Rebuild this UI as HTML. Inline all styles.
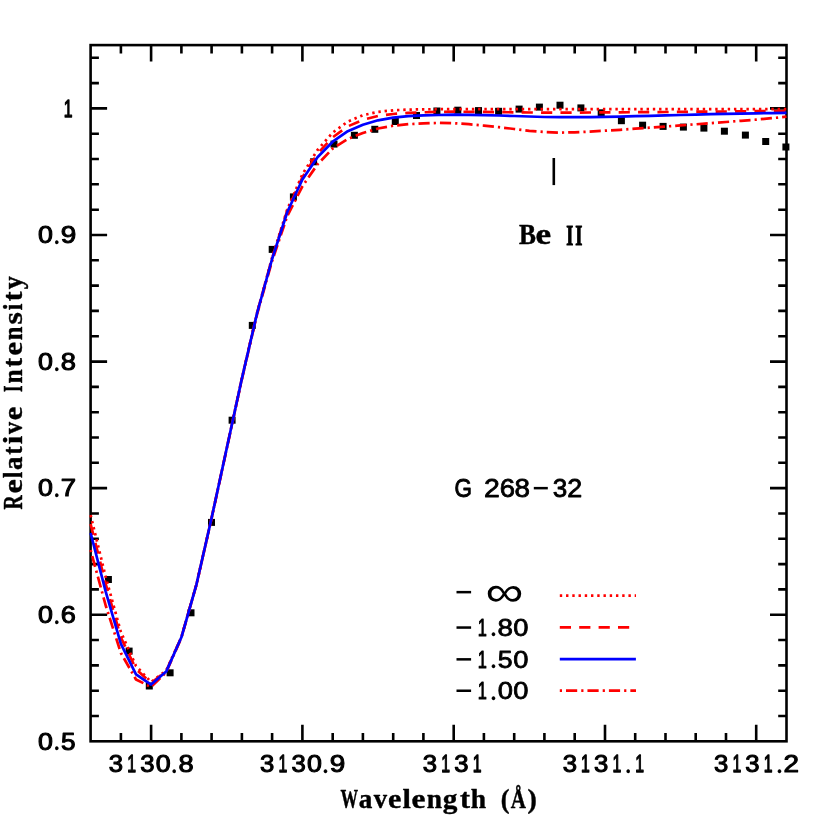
<!DOCTYPE html>
<html><head><meta charset="utf-8"><title>G 268-32 Be II</title>
<style>
html,body{margin:0;padding:0;background:#fff;}
body{width:830px;height:830px;overflow:hidden;font-family:"Liberation Sans",sans-serif;}
svg{display:block;}
text{font-size:100px;fill:#000;stroke-linejoin:round;}
.sr{font-family:"Liberation Serif",serif;}
.sb{font-family:"Liberation Serif",serif;font-weight:bold;}
.mb{font-family:"Liberation Mono",monospace;font-weight:bold;}
.mr{font-family:"Liberation Mono",monospace;}
.ss{font-family:"Liberation Sans",sans-serif;}
.t{filter:grayscale(1);}
.sab{font-family:"Liberation Sans",sans-serif;font-weight:bold;}
</style></head><body>
<svg width="830" height="830" viewBox="0 0 830 830">
<rect x="0" y="0" width="830" height="830" fill="#fff"/>

<g stroke="#000" stroke-width="2.6" fill="none" stroke-linecap="butt">
<path d="M120.9 741.3 V733.0 M120.9 45.1 V53.4"/>
<path d="M151.1 741.3 V724.8 M151.1 45.1 V61.6"/>
<path d="M181.4 741.3 V733.0 M181.4 45.1 V53.4"/>
<path d="M211.6 741.3 V733.0 M211.6 45.1 V53.4"/>
<path d="M241.9 741.3 V733.0 M241.9 45.1 V53.4"/>
<path d="M272.1 741.3 V733.0 M272.1 45.1 V53.4"/>
<path d="M302.4 741.3 V724.8 M302.4 45.1 V61.6"/>
<path d="M332.7 741.3 V733.0 M332.7 45.1 V53.4"/>
<path d="M362.9 741.3 V733.0 M362.9 45.1 V53.4"/>
<path d="M393.2 741.3 V733.0 M393.2 45.1 V53.4"/>
<path d="M423.4 741.3 V733.0 M423.4 45.1 V53.4"/>
<path d="M453.7 741.3 V724.8 M453.7 45.1 V61.6"/>
<path d="M483.9 741.3 V733.0 M483.9 45.1 V53.4"/>
<path d="M514.2 741.3 V733.0 M514.2 45.1 V53.4"/>
<path d="M544.4 741.3 V733.0 M544.4 45.1 V53.4"/>
<path d="M574.7 741.3 V733.0 M574.7 45.1 V53.4"/>
<path d="M605.0 741.3 V724.8 M605.0 45.1 V61.6"/>
<path d="M635.2 741.3 V733.0 M635.2 45.1 V53.4"/>
<path d="M665.5 741.3 V733.0 M665.5 45.1 V53.4"/>
<path d="M695.7 741.3 V733.0 M695.7 45.1 V53.4"/>
<path d="M726.0 741.3 V733.0 M726.0 45.1 V53.4"/>
<path d="M756.2 741.3 V724.8 M756.2 45.1 V61.6"/>
<path d="M90.6 716.0 H98.9 M786.5 716.0 H778.2"/>
<path d="M90.6 690.7 H98.9 M786.5 690.7 H778.2"/>
<path d="M90.6 665.4 H98.9 M786.5 665.4 H778.2"/>
<path d="M90.6 640.0 H98.9 M786.5 640.0 H778.2"/>
<path d="M90.6 614.7 H107.1 M786.5 614.7 H770.0"/>
<path d="M90.6 589.4 H98.9 M786.5 589.4 H778.2"/>
<path d="M90.6 564.1 H98.9 M786.5 564.1 H778.2"/>
<path d="M90.6 538.8 H98.9 M786.5 538.8 H778.2"/>
<path d="M90.6 513.5 H98.9 M786.5 513.5 H778.2"/>
<path d="M90.6 488.1 H107.1 M786.5 488.1 H770.0"/>
<path d="M90.6 462.8 H98.9 M786.5 462.8 H778.2"/>
<path d="M90.6 437.5 H98.9 M786.5 437.5 H778.2"/>
<path d="M90.6 412.2 H98.9 M786.5 412.2 H778.2"/>
<path d="M90.6 386.9 H98.9 M786.5 386.9 H778.2"/>
<path d="M90.6 361.6 H107.1 M786.5 361.6 H770.0"/>
<path d="M90.6 336.2 H98.9 M786.5 336.2 H778.2"/>
<path d="M90.6 310.9 H98.9 M786.5 310.9 H778.2"/>
<path d="M90.6 285.6 H98.9 M786.5 285.6 H778.2"/>
<path d="M90.6 260.3 H98.9 M786.5 260.3 H778.2"/>
<path d="M90.6 235.0 H107.1 M786.5 235.0 H770.0"/>
<path d="M90.6 209.7 H98.9 M786.5 209.7 H778.2"/>
<path d="M90.6 184.3 H98.9 M786.5 184.3 H778.2"/>
<path d="M90.6 159.0 H98.9 M786.5 159.0 H778.2"/>
<path d="M90.6 133.7 H98.9 M786.5 133.7 H778.2"/>
<path d="M90.6 108.4 H107.1 M786.5 108.4 H770.0"/>
<path d="M90.6 83.1 H98.9 M786.5 83.1 H778.2"/>
<path d="M90.6 57.8 H98.9 M786.5 57.8 H778.2"/>
</g>
<rect x="90.6" y="45.1" width="695.9" height="696.2" fill="none" stroke="#000" stroke-width="2.6"/>
<g fill="#000">
<rect x="104.9" y="576.0" width="7" height="7"/>
<rect x="125.6" y="647.6" width="7" height="7"/>
<rect x="145.8" y="682.5" width="7" height="7"/>
<rect x="166.6" y="669.3" width="7" height="7"/>
<rect x="187.5" y="609.3" width="7" height="7"/>
<rect x="208.0" y="518.9" width="7" height="7"/>
<rect x="228.6" y="416.7" width="7" height="7"/>
<rect x="248.8" y="321.9" width="7" height="7"/>
<rect x="268.7" y="245.9" width="7" height="7"/>
<rect x="289.9" y="193.4" width="7" height="7"/>
<rect x="310.1" y="158.3" width="7" height="7"/>
<rect x="330.5" y="140.6" width="7" height="7"/>
<rect x="350.9" y="131.8" width="7" height="7"/>
<rect x="371.3" y="125.8" width="7" height="7"/>
<rect x="391.8" y="118.0" width="7" height="7"/>
<rect x="413.0" y="112.0" width="7" height="7"/>
<rect x="433.4" y="107.5" width="7" height="7"/>
<rect x="454.3" y="106.7" width="7" height="7"/>
<rect x="475.0" y="107.1" width="7" height="7"/>
<rect x="495.1" y="107.8" width="7" height="7"/>
<rect x="515.6" y="105.6" width="7" height="7"/>
<rect x="535.9" y="103.6" width="7" height="7"/>
<rect x="556.5" y="101.7" width="7" height="7"/>
<rect x="577.4" y="104.4" width="7" height="7"/>
<rect x="597.7" y="109.3" width="7" height="7"/>
<rect x="617.9" y="117.2" width="7" height="7"/>
<rect x="639.1" y="121.7" width="7" height="7"/>
<rect x="659.6" y="122.9" width="7" height="7"/>
<rect x="679.9" y="123.6" width="7" height="7"/>
<rect x="700.4" y="124.6" width="7" height="7"/>
<rect x="720.9" y="127.7" width="7" height="7"/>
<rect x="741.9" y="131.6" width="7" height="7"/>
<rect x="762.2" y="138.0" width="7" height="7"/>
<rect x="782.4" y="143.5" width="7" height="7"/>
</g>
<g fill="none" stroke-width="2.7" stroke-linejoin="round">
<polyline stroke="#f00" stroke-dasharray="2.4 3.84" points="90.6,515.0 105.7,577.0 120.9,632.0 136.0,666.0 151.1,682.0 166.2,670.5 181.4,637.0 196.5,584.3 211.6,518.0 226.8,448.0 241.9,378.3 257.0,313.0 272.1,257.5 287.3,209.3 302.4,174.3 317.5,150.0 332.7,132.6 347.8,121.6 362.9,115.2 378.0,111.9 393.2,110.3 408.3,109.6 423.4,109.3 438.5,109.2 453.7,109.2 468.8,109.2 483.9,109.2 499.1,109.2 514.2,109.2 529.3,109.2 544.4,109.2 559.6,109.2 574.7,109.2 589.8,109.2 605.0,109.2 620.1,109.2 635.2,109.2 650.3,109.2 665.5,109.2 680.6,109.2 695.7,109.2 710.9,109.2 726.0,109.2 741.1,109.2 756.2,109.2 771.4,109.2 786.5,109.2"/>
<polyline stroke="#f00" stroke-dasharray="11.2 8.2" points="90.6,524.0 105.7,584.0 120.9,637.5 136.0,669.0 151.1,683.0 166.2,671.0 181.4,637.2 196.5,584.3 211.6,518.0 226.8,448.0 241.9,378.4 257.0,313.2 272.1,258.2 287.3,210.6 302.4,177.2 317.5,153.8 332.7,137.3 347.8,126.4 362.9,119.8 378.0,116.0 393.2,114.0 408.3,112.9 423.4,112.3 438.5,111.9 453.7,111.7 468.8,111.8 483.9,111.9 499.1,112.1 514.2,112.3 529.3,112.5 544.4,112.6 559.6,112.7 574.7,112.6 589.8,112.5 605.0,112.4 620.1,112.3 635.2,112.2 650.3,112.1 665.5,112.0 680.6,111.9 695.7,111.7 710.9,111.6 726.0,111.5 741.1,111.4 756.2,111.2 771.4,111.1 786.5,111.0"/>
<polyline stroke="#f00" stroke-dasharray="2.2 4 11.2 4.05" points="90.6,550.0 105.7,605.5 120.9,653.0 136.0,679.5 151.1,687.0 166.2,672.3 181.4,637.6 196.5,584.5 211.6,518.3 226.8,448.5 241.9,379.1 257.0,314.5 272.1,261.0 287.3,216.0 302.4,186.3 317.5,164.4 332.7,148.5 347.8,139.0 362.9,133.0 378.0,128.5 393.2,125.7 408.3,124.2 423.4,123.4 438.5,122.9 453.7,123.2 468.8,124.2 483.9,125.6 499.1,127.2 514.2,129.0 529.3,130.8 544.4,132.0 559.6,132.6 574.7,132.3 589.8,131.6 605.0,130.7 620.1,129.8 635.2,128.7 650.3,127.6 665.5,126.5 680.6,125.4 695.7,124.3 710.9,123.1 726.0,122.0 741.1,120.8 756.2,119.6 771.4,118.2 786.5,116.7"/>
<polyline stroke="#00f" points="90.6,533.0 105.7,591.6 120.9,643.8 136.0,674.3 151.1,684.6 166.2,671.6 181.4,637.3 196.5,584.3 211.6,518.0 226.8,448.0 241.9,378.5 257.0,313.5 272.1,259.0 287.3,212.0 302.4,179.5 317.5,157.2 332.7,141.7 347.8,131.2 362.9,124.8 378.0,120.3 393.2,117.6 408.3,116.2 423.4,115.4 438.5,115.0 453.7,114.7 468.8,114.8 483.9,115.1 499.1,115.5 514.2,116.0 529.3,116.5 544.4,117.0 559.6,117.2 574.7,117.2 589.8,117.1 605.0,116.9 620.1,116.6 635.2,116.2 650.3,115.8 665.5,115.4 680.6,115.0 695.7,114.6 710.9,114.2 726.0,113.9 741.1,113.6 756.2,113.3 771.4,113.1 786.5,112.9"/>
</g>
<path d="M553.8 158 V185.1" stroke="#000" stroke-width="2.6" fill="none"/>
<g fill="none" stroke-width="2.7">
<path d="M559.8 595.7 H636" stroke="#f00" stroke-dasharray="2.4 3.84"/>
<path d="M559.8 627.4 H632" stroke="#f00" stroke-dasharray="11.2 8.2"/>
<path d="M559.8 659.2 H635.9" stroke="#00f"/>
<path d="M559.8 690.6 H636" stroke="#f00" stroke-dasharray="2.2 4 11.2 4.05"/>
</g>
<g class="t">
<text class="ss" transform="matrix(0.1577 0 0 0.2442 63.85 116.74)" stroke="#000" stroke-width="5.47">1</text>
<text class="ss" transform="matrix(0.2678 0 0 0.2442 38.10 243.32)" stroke="#000" stroke-width="4.30">0</text>
<text class="sr" transform="matrix(0.2793 0 0 0.2877 53.21 243.92)" stroke="#000" stroke-width="1.06">.</text>
<text class="ss" transform="matrix(0.2793 0 0 0.2442 60.74 243.32)" stroke="#000" stroke-width="4.20">9</text>
<text class="ss" transform="matrix(0.2678 0 0 0.2442 38.10 369.90)" stroke="#000" stroke-width="4.30">0</text>
<text class="sr" transform="matrix(0.2793 0 0 0.2877 53.21 370.50)" stroke="#000" stroke-width="1.06">.</text>
<text class="ss" transform="matrix(0.2728 0 0 0.2442 60.86 369.90)" stroke="#000" stroke-width="4.26">8</text>
<text class="ss" transform="matrix(0.2678 0 0 0.2442 38.10 496.49)" stroke="#000" stroke-width="4.30">0</text>
<text class="sr" transform="matrix(0.2793 0 0 0.2877 53.21 497.09)" stroke="#000" stroke-width="1.06">.</text>
<text class="ss" transform="matrix(0.2750 0 0 0.2442 60.64 496.49)" stroke="#000" stroke-width="4.24">7</text>
<text class="ss" transform="matrix(0.2678 0 0 0.2442 38.10 623.07)" stroke="#000" stroke-width="4.30">0</text>
<text class="sr" transform="matrix(0.2793 0 0 0.2877 53.21 623.67)" stroke="#000" stroke-width="1.06">.</text>
<text class="ss" transform="matrix(0.2709 0 0 0.2442 60.67 623.07)" stroke="#000" stroke-width="4.27">6</text>
<text class="ss" transform="matrix(0.2678 0 0 0.2442 38.10 749.65)" stroke="#000" stroke-width="4.30">0</text>
<text class="sr" transform="matrix(0.2793 0 0 0.2877 53.21 750.25)" stroke="#000" stroke-width="1.06">.</text>
<text class="ss" transform="matrix(0.2615 0 0 0.2442 61.00 749.65)" stroke="#000" stroke-width="4.35">5</text>
<text class="ss" transform="matrix(0.2573 0 0 0.2442 108.78 772.35)" stroke="#000" stroke-width="4.39">3</text>
<text class="ss" transform="matrix(0.1577 0 0 0.2442 127.26 772.35)" stroke="#000" stroke-width="5.47">1</text>
<text class="ss" transform="matrix(0.2573 0 0 0.2442 140.18 772.35)" stroke="#000" stroke-width="4.39">3</text>
<text class="ss" transform="matrix(0.2678 0 0 0.2442 155.72 772.35)" stroke="#000" stroke-width="4.30">0</text>
<text class="sr" transform="matrix(0.2793 0 0 0.2877 170.82 772.95)" stroke="#000" stroke-width="1.06">.</text>
<text class="ss" transform="matrix(0.2728 0 0 0.2442 178.48 772.35)" stroke="#000" stroke-width="4.26">8</text>
<text class="ss" transform="matrix(0.2573 0 0 0.2442 260.07 772.35)" stroke="#000" stroke-width="4.39">3</text>
<text class="ss" transform="matrix(0.1577 0 0 0.2442 278.54 772.35)" stroke="#000" stroke-width="5.47">1</text>
<text class="ss" transform="matrix(0.2573 0 0 0.2442 291.47 772.35)" stroke="#000" stroke-width="4.39">3</text>
<text class="ss" transform="matrix(0.2678 0 0 0.2442 307.00 772.35)" stroke="#000" stroke-width="4.30">0</text>
<text class="sr" transform="matrix(0.2793 0 0 0.2877 322.10 772.95)" stroke="#000" stroke-width="1.06">.</text>
<text class="ss" transform="matrix(0.2793 0 0 0.2442 329.64 772.35)" stroke="#000" stroke-width="4.20">9</text>
<text class="ss" transform="matrix(0.2573 0 0 0.2442 422.75 772.35)" stroke="#000" stroke-width="4.39">3</text>
<text class="ss" transform="matrix(0.1577 0 0 0.2442 441.23 772.35)" stroke="#000" stroke-width="5.47">1</text>
<text class="ss" transform="matrix(0.2573 0 0 0.2442 454.15 772.35)" stroke="#000" stroke-width="4.39">3</text>
<text class="ss" transform="matrix(0.1577 0 0 0.2442 472.63 772.35)" stroke="#000" stroke-width="5.47">1</text>
<text class="ss" transform="matrix(0.2573 0 0 0.2442 562.63 772.35)" stroke="#000" stroke-width="4.39">3</text>
<text class="ss" transform="matrix(0.1577 0 0 0.2442 581.11 772.35)" stroke="#000" stroke-width="5.47">1</text>
<text class="ss" transform="matrix(0.2573 0 0 0.2442 594.03 772.35)" stroke="#000" stroke-width="4.39">3</text>
<text class="ss" transform="matrix(0.1577 0 0 0.2442 612.51 772.35)" stroke="#000" stroke-width="5.47">1</text>
<text class="sr" transform="matrix(0.2793 0 0 0.2877 624.67 772.95)" stroke="#000" stroke-width="1.06">.</text>
<text class="ss" transform="matrix(0.1577 0 0 0.2442 635.31 772.35)" stroke="#000" stroke-width="5.47">1</text>
<text class="ss" transform="matrix(0.2573 0 0 0.2442 713.91 772.35)" stroke="#000" stroke-width="4.39">3</text>
<text class="ss" transform="matrix(0.1577 0 0 0.2442 732.39 772.35)" stroke="#000" stroke-width="5.47">1</text>
<text class="ss" transform="matrix(0.2573 0 0 0.2442 745.31 772.35)" stroke="#000" stroke-width="4.39">3</text>
<text class="ss" transform="matrix(0.1577 0 0 0.2442 763.79 772.35)" stroke="#000" stroke-width="5.47">1</text>
<text class="sr" transform="matrix(0.2793 0 0 0.2877 775.95 772.95)" stroke="#000" stroke-width="1.06">.</text>
<text class="ss" transform="matrix(0.2788 0 0 0.2442 783.39 772.35)" stroke="#000" stroke-width="4.21">2</text>
</g>
<g class="t">
<text class="sb" transform="matrix(0.1762 0 0 0.2657 340.45 807.70)" stroke="#000" stroke-width="1.81">W</text>
<text class="sb" transform="matrix(0.2717 0 0 0.2657 358.82 807.70)" stroke="#000" stroke-width="1.49">a</text>
<text class="sb" transform="matrix(0.2660 0 0 0.2657 373.80 807.70)" stroke="#000" stroke-width="1.50">v</text>
<text class="sb" transform="matrix(0.3022 0 0 0.2657 388.07 807.70)" stroke="#000" stroke-width="1.41">e</text>
<text class="sb" transform="matrix(0.3026 0 0 0.2657 402.41 807.70)" stroke="#000" stroke-width="1.41">l</text>
<text class="sb" transform="matrix(0.3153 0 0 0.2657 411.62 807.70)" stroke="#000" stroke-width="1.38">e</text>
<text class="sb" transform="matrix(0.2742 0 0 0.2657 426.86 807.70)" stroke="#000" stroke-width="1.48">n</text>
<text class="sb" transform="matrix(0.2932 0 0 0.2657 442.73 807.70)" stroke="#000" stroke-width="1.43">g</text>
<text class="sb" transform="matrix(0.3008 0 0 0.2657 460.12 807.70)" stroke="#000" stroke-width="1.41">t</text>
<text class="sb" transform="matrix(0.2751 0 0 0.2657 470.81 807.70)" stroke="#000" stroke-width="1.48">h</text>
<text class="sb" transform="matrix(0.2609 0 0 0.2657 500.65 807.70)" stroke="#000" stroke-width="1.52">(</text>
<text class="sb" transform="matrix(0.2099 0 0 0.2657 510.80 807.70)" stroke="#000" stroke-width="1.68">Å</text>
<text class="sb" transform="matrix(0.2803 0 0 0.2657 527.50 807.70)" stroke="#000" stroke-width="1.47">)</text>
</g>
<g class="t">
<text class="sb" transform="matrix(0 -0.1975 0.2825 0 21.70 509.44)" stroke="#000" stroke-width="1.67">R</text>
<text class="sb" transform="matrix(0 -0.3231 0.2825 0 21.70 493.60)" stroke="#000" stroke-width="1.32">e</text>
<text class="sb" transform="matrix(0 -0.2239 0.2825 0 21.70 478.04)" stroke="#000" stroke-width="1.58">l</text>
<text class="sb" transform="matrix(0 -0.2673 0.2825 0 21.70 470.06)" stroke="#000" stroke-width="1.45">a</text>
<text class="sb" transform="matrix(0 -0.2496 0.2825 0 21.70 454.70)" stroke="#000" stroke-width="1.50">t</text>
<text class="sb" transform="matrix(0 -0.3068 0.2825 0 21.70 444.37)" stroke="#000" stroke-width="1.36">i</text>
<text class="sb" transform="matrix(0 -0.2420 0.2825 0 21.70 434.00)" stroke="#000" stroke-width="1.53">v</text>
<text class="sb" transform="matrix(0 -0.3049 0.2825 0 21.70 420.14)" stroke="#000" stroke-width="1.36">e</text>
<text class="sb" transform="matrix(0 -0.1678 0.2825 0 21.70 392.07)" stroke="#000" stroke-width="1.78">I</text>
<text class="sb" transform="matrix(0 -0.2548 0.2825 0 21.70 383.48)" stroke="#000" stroke-width="1.49">n</text>
<text class="sb" transform="matrix(0 -0.2784 0.2825 0 21.70 367.35)" stroke="#000" stroke-width="1.43">t</text>
<text class="sb" transform="matrix(0 -0.3049 0.2825 0 21.70 355.44)" stroke="#000" stroke-width="1.36">e</text>
<text class="sb" transform="matrix(0 -0.2451 0.2825 0 21.70 340.16)" stroke="#000" stroke-width="1.52">n</text>
<text class="sb" transform="matrix(0 -0.3199 0.2825 0 21.70 324.57)" stroke="#000" stroke-width="1.33">s</text>
<text class="sb" transform="matrix(0 -0.2405 0.2825 0 21.70 310.13)" stroke="#000" stroke-width="1.53">i</text>
<text class="sb" transform="matrix(0 -0.2944 0.2825 0 21.70 301.37)" stroke="#000" stroke-width="1.39">t</text>
<text class="sb" transform="matrix(0 -0.2622 0.2825 0 21.70 289.16)" stroke="#000" stroke-width="1.47">y</text>
</g>
<g class="t">
<text class="sb" transform="matrix(0.2538 0 0 0.3009 519.03 244.45)" stroke="#000" stroke-width="1.80">B</text>
<text class="sb" transform="matrix(0.3518 0 0 0.3009 535.55 244.45)" stroke="#000" stroke-width="1.53">e</text>
<text class="sb" transform="matrix(0.1802 0 0 0.2886 566.24 244.95)" stroke="#000" stroke-width="3.84">I</text>
<text class="sb" transform="matrix(0.1834 0 0 0.2886 575.33 244.95)" stroke="#000" stroke-width="3.81">I</text>
</g>
<g class="t">
<text class="ss" transform="matrix(0.2244 0 0 0.2493 454.40 496.57)" stroke="#000" stroke-width="3.59">G</text>
<text class="ss" transform="matrix(0.2843 0 0 0.2493 484.10 496.57)" stroke="#000" stroke-width="3.19">2</text>
<text class="ss" transform="matrix(0.2742 0 0 0.2493 499.63 496.57)" stroke="#000" stroke-width="3.25">6</text>
<text class="ss" transform="matrix(0.2781 0 0 0.2493 514.62 496.57)" stroke="#000" stroke-width="3.22">8</text>
<text class="ss" transform="matrix(0.2605 0 0 0.2493 552.63 496.57)" stroke="#000" stroke-width="3.33">3</text>
<text class="ss" transform="matrix(0.2689 0 0 0.2493 567.17 496.57)" stroke="#000" stroke-width="3.28">2</text>
<rect x="533.8" y="486.9" width="14" height="2.5" fill="#000"/>
</g>
<g class="t">
<rect x="456.5" y="590.9" width="14.6" height="2.5" fill="#000"/>
<text class="ss" transform="matrix(0.5303 0 0 0.4254 485.45 606.42)" >∞</text>
<rect x="456.5" y="626.3" width="14.6" height="2.5" fill="#000"/>
<text class="ss" transform="matrix(0.1635 0 0 0.2478 477.78 635.98)" stroke="#000" stroke-width="4.13">1</text>
<text class="sr" transform="matrix(0.2793 0 0 0.2877 490.11 636.45)" stroke="#000" stroke-width="1.06">.</text>
<text class="ss" transform="matrix(0.2781 0 0 0.2478 497.62 635.98)" stroke="#000" stroke-width="3.23">8</text>
<text class="ss" transform="matrix(0.2730 0 0 0.2478 513.36 635.98)" stroke="#000" stroke-width="3.26">0</text>
<rect x="456.5" y="658.1" width="14.6" height="2.5" fill="#000"/>
<text class="ss" transform="matrix(0.1635 0 0 0.2478 477.78 667.78)" stroke="#000" stroke-width="4.13">1</text>
<text class="sr" transform="matrix(0.2793 0 0 0.2877 490.11 668.25)" stroke="#000" stroke-width="1.06">.</text>
<text class="ss" transform="matrix(0.2668 0 0 0.2478 497.76 667.78)" stroke="#000" stroke-width="3.30">5</text>
<text class="ss" transform="matrix(0.2730 0 0 0.2478 513.36 667.78)" stroke="#000" stroke-width="3.26">0</text>
<rect x="456.5" y="689.5" width="14.6" height="2.5" fill="#000"/>
<text class="ss" transform="matrix(0.1635 0 0 0.2478 477.78 699.18)" stroke="#000" stroke-width="4.13">1</text>
<text class="sr" transform="matrix(0.2793 0 0 0.2877 490.11 699.65)" stroke="#000" stroke-width="1.06">.</text>
<text class="ss" transform="matrix(0.2730 0 0 0.2478 497.66 699.18)" stroke="#000" stroke-width="3.26">0</text>
<text class="ss" transform="matrix(0.2730 0 0 0.2478 513.36 699.18)" stroke="#000" stroke-width="3.26">0</text>
</g>
</svg>
</body></html>
